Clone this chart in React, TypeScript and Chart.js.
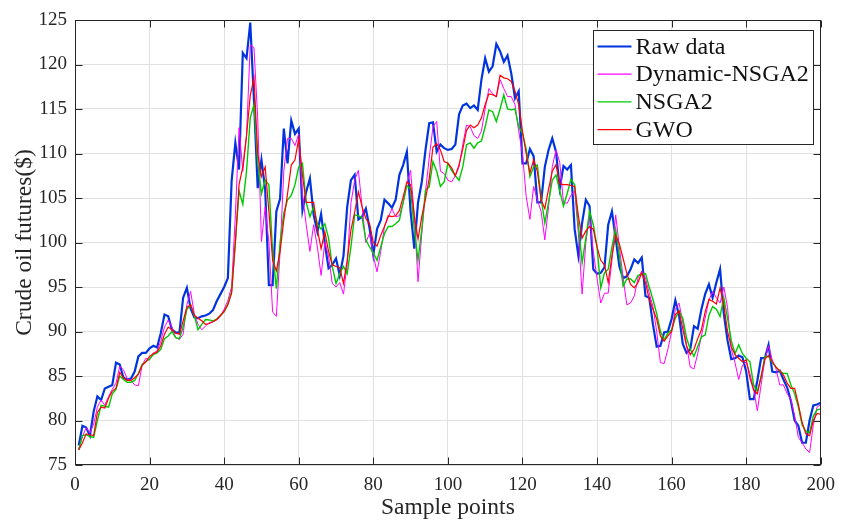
import React, { useEffect, useRef } from 'react';
import { Chart, registerables } from 'chart.js';

Chart.register(...registerables);

const seriesLabels = ['Raw data', 'Dynamic-NSGA2', 'NSGA2', 'GWO'];
const seriesColors = ['rgb(0,52,222)', 'rgb(255,0,255)', 'rgb(0,200,0)', 'rgb(255,0,0)'];
const seriesWidths = [2.2, 1, 1.4, 1.2];

const xTicks = [0, 20, 40, 60, 80, 100, 120, 140, 160, 180, 200];
const yTicks = [75, 80, 85, 90, 95, 100, 105, 110, 115, 120, 125];

const rawData = [
  77.2, 79.4, 79.2, 78.3, 81.0, 82.7, 82.3, 83.6, 83.8, 84.0,
  86.5, 86.3, 84.8, 84.6, 84.7, 85.5, 87.2, 87.6, 87.6, 88.1,
  88.4, 88.2, 89.8, 91.9, 91.7, 90.2, 89.9, 89.85, 93.8, 94.9,
  92.6, 91.6, 91.5, 91.7, 91.8, 92.0, 92.4, 93.4, 94.2, 95.0,
  96.0, 106.9, 111.2, 108.2, 121.3, 120.7, 124.7, 116.0, 106.1, 109.3,
  106.0, 95.2, 95.2, 103.5, 104.9, 112.8, 108.9, 113.7, 112.2, 112.8,
  103.6, 105.7, 107.2, 103.1, 101.2, 103.2, 99.9, 97.1, 97.5, 98.2,
  96.3, 98.5, 104.0, 107.0, 107.6, 102.6, 102.9, 103.8, 101.6, 98.6,
  101.5, 102.5, 104.8, 104.4, 103.9, 104.8, 107.6, 108.7, 110.2, 103.5,
  99.3, 104.5, 106.8, 110.4, 113.4, 113.5, 110.2, 111.0, 110.6, 110.4,
  110.5, 111.0, 114.4, 115.4, 115.6, 115.1, 115.4, 114.9, 118.3, 120.7,
  119.2, 119.8, 122.3, 121.5, 120.3, 121.0, 119.0, 116.2, 117.0, 108.9,
  108.9, 110.5, 109.7, 104.5, 104.5, 108.5, 110.4, 111.7, 110.2, 106.1,
  108.6, 108.2, 108.7, 101.5, 98.5, 102.2, 104.8, 104.1, 97.0, 96.5,
  96.6, 97.2, 102.0, 103.5, 100.5, 97.3, 96.0, 96.2, 97.0, 98.1,
  97.7, 98.3, 94.0, 93.8, 90.8, 88.3, 88.4, 89.9, 90.0, 91.4,
  93.5, 91.8, 88.6, 87.6, 88.0, 90.6, 90.3, 92.5, 94.2, 95.3,
  93.8, 95.5, 97.0, 92.0, 89.0, 86.9, 87.0, 87.3, 87.1, 85.5,
  82.4, 82.4, 84.5, 87.0, 87.0, 88.5, 85.5, 85.4, 85.6, 84.6,
  83.7, 82.2, 80.0, 79.4, 77.5, 77.5, 80.0, 81.7, 81.8, 82.0,
];

const dynamicNsga2 = [
  76.8, 78.2, 79.2, 78.6, 79.6, 81.5, 82.3, 81.7, 82.7, 83.5,
  84.2, 86.1, 85.7, 84.7, 84.5, 84.0, 83.9, 86.2, 87.0, 86.8,
  87.6, 87.8, 88.9, 90.5, 91.3, 90.5, 89.3, 89.1, 89.7, 93.0,
  94.5, 92.0, 90.8, 90.2, 90.6, 91.0, 91.1, 91.3, 91.7, 92.5,
  93.5, 95.0, 103.0, 112.9, 108.0, 112.0, 122.2, 121.9, 114.0, 100.1,
  104.0, 100.0, 92.2, 91.7, 99.0, 108.0, 111.7, 111.7, 110.9, 112.2,
  105.5, 102.0, 99.0, 102.0, 99.5, 96.3, 100.0, 98.5, 95.4, 95.0,
  95.5, 94.2, 97.6, 104.4, 107.0, 108.1, 104.0, 100.0, 101.0, 98.5,
  96.7, 99.0, 101.8, 102.8, 103.8, 102.9, 103.0, 104.4, 106.6, 108.1,
  103.0, 95.6, 101.0, 105.7, 109.5, 113.0, 113.6, 108.0, 107.75, 107.0,
  106.8, 107.5, 108.5, 111.0, 113.2, 113.0, 112.0, 111.7, 112.5, 115.0,
  117.3, 116.7, 116.4, 118.3, 117.3, 116.4, 116.4, 115.5, 112.5, 110.0,
  105.2, 102.6, 106.3, 104.8, 103.5, 100.3, 104.0, 108.5, 110.4, 109.0,
  104.5, 104.4, 105.3, 105.8, 101.0, 94.2, 100.0, 103.0, 99.0, 96.0,
  93.2, 94.3, 94.3, 98.0, 103.1, 99.5, 96.0, 93.0, 93.2, 94.0,
  96.0, 96.8, 96.0, 94.3, 92.8, 90.0, 86.5, 86.4, 88.0, 90.0,
  92.5, 93.2, 91.0, 88.5, 86.0, 85.8, 87.5, 89.5, 91.5, 93.5,
  94.5, 93.8, 93.2, 95.0, 92.7, 88.0, 86.5, 84.6, 86.2, 86.6,
  85.3, 83.5, 81.1, 84.0, 86.8, 88.4, 86.8, 85.8, 84.0, 84.0,
  83.0, 82.4, 80.5, 78.1, 77.5, 76.8, 76.4, 79.5, 81.5, 81.8,
];

const nsga2 = [
  76.7, 78.3, 78.4, 78.2, 78.1, 80.0, 81.7, 81.6, 81.5, 83.0,
  83.5, 85.0, 84.6, 84.3, 84.3, 84.5, 85.3, 86.3, 86.6, 86.9,
  87.4, 87.6, 88.0, 89.2, 89.5, 90.0, 89.3, 89.2, 90.5, 92.5,
  93.0, 91.8, 90.2, 90.8, 91.35, 91.3, 91.2, 91.4, 91.8, 92.2,
  93.1, 94.5, 100.0, 105.8, 104.3, 108.0, 114.0, 115.5, 109.0, 105.5,
  107.0, 106.5, 99.0, 94.8, 100.0, 103.3, 104.8, 105.3, 106.5, 108.5,
  108.9, 104.5, 102.9, 104.0, 102.1, 101.5, 102.1, 100.5, 97.3, 95.4,
  96.5, 97.3, 96.5, 99.5, 103.1, 103.0, 102.8, 100.3, 99.5, 98.8,
  98.0, 99.5, 101.0, 101.8, 101.8, 102.1, 102.5, 104.5, 106.4, 106.0,
  101.5, 98.0, 101.5, 105.9, 106.25, 109.1, 108.0, 106.3, 106.8, 108.9,
  108.1, 107.5, 107.0, 108.5, 111.0, 111.2, 110.6, 111.2, 111.4, 113.0,
  114.9, 114.7, 113.6, 115.0, 116.6, 115.0, 114.9, 115.0, 113.0, 112.3,
  110.5, 107.4, 108.5, 108.7, 105.0, 102.2, 104.5, 107.0, 107.6, 105.8,
  104.1, 105.5, 107.1, 106.5, 102.0, 97.7, 100.5, 103.5, 102.0, 99.5,
  94.9, 96.6, 97.0, 99.5, 101.5, 98.5, 95.1, 95.9, 95.9, 95.5,
  96.3, 96.4, 96.5, 95.0, 93.6, 92.0, 90.0, 89.1, 89.8, 90.2,
  91.5, 92.3, 91.5, 89.3, 88.0, 87.2, 88.3, 89.4, 89.6, 91.8,
  92.8, 92.5, 91.7, 93.8, 91.5, 89.0, 87.5, 88.5, 87.5, 87.0,
  86.6, 84.0, 83.3, 84.8, 87.2, 87.2, 86.5, 86.0, 85.5, 85.3,
  85.3, 84.0, 83.0, 81.5, 79.5, 78.8, 78.6, 80.5, 81.2, 81.3,
];

const gwo = [
  76.7, 77.5, 78.5, 78.4, 78.3, 80.9, 81.5, 81.4, 82.5, 83.3,
  83.6, 85.4, 84.8, 84.5, 84.5, 84.8, 85.2, 86.2, 86.6, 87.2,
  87.5, 87.7, 88.4, 89.7, 90.5, 90.2, 89.8, 89.7, 91.2, 92.7,
  93.0, 91.8, 91.5, 91.2, 90.8, 90.9, 91.1, 91.35, 91.8, 92.3,
  93.0, 94.3, 100.0, 106.5, 108.5, 112.0, 116.5, 118.5, 110.0, 107.4,
  108.5, 103.5, 98.0, 96.8, 99.0, 102.5, 105.5, 108.7, 109.3, 111.7,
  107.5, 104.5, 104.5, 104.5, 101.5, 99.3, 101.2, 99.0, 97.5, 97.3,
  97.2, 95.4, 98.0, 101.4, 103.4, 105.7, 104.0, 102.7, 102.1, 100.0,
  99.6, 100.8, 101.8, 103.0, 102.9, 103.0, 103.6, 105.1, 106.8, 106.5,
  103.0, 100.4, 102.9, 104.9, 107.2, 110.7, 111.1, 110.4, 109.1, 108.9,
  108.4, 107.5, 108.75, 110.5, 112.6, 113.2, 112.9, 113.2, 114.0, 115.5,
  116.7, 116.6, 116.4, 118.8, 118.5, 118.4, 118.1, 117.0, 115.5, 112.5,
  110.0, 107.8, 109.3, 108.0, 104.8, 103.8, 106.0, 108.0, 108.75, 106.6,
  106.5, 106.5, 106.4, 106.3, 103.0, 100.5, 101.3, 101.8, 101.5, 99.5,
  98.0, 97.5, 95.5, 98.5, 100.8, 99.8, 98.2, 96.5, 95.3, 94.9,
  95.5, 96.6, 95.5, 93.6, 92.5, 91.4, 89.5, 88.9, 89.5, 90.0,
  91.9, 92.3, 90.3, 88.4, 87.4, 88.0, 89.2, 90.2, 92.2, 93.6,
  93.4, 93.1, 94.9, 93.0, 90.0, 88.3, 87.4, 87.0, 86.6, 86.8,
  84.8, 83.4, 83.0, 85.0, 86.9, 87.3, 86.6, 86.0, 85.6, 85.1,
  84.2, 83.6, 83.6, 81.8, 79.8, 78.5, 78.3, 80.0, 80.8, 80.7,
];

const allSeries = [rawData, dynamicNsga2, nsga2, gwo];

const FONT = "'Liberation Serif', 'Times New Roman', serif";
const TEXT = '#262626';

const toPoints = (arr: number[]) => arr.map((v, i) => ({ x: i + 1, y: v }));

const decorPlugin = {
  id: 'decor',
  afterDatasetsDraw(chart: any) {
    const { ctx, chartArea: a, scales } = chart;
    const L = Math.round(a.left) + 0.5;
    const R = Math.round(a.right) - 0.5;
    const T = Math.round(a.top) + 0.5;
    const B = Math.round(a.bottom) - 0.5;
    ctx.save();
    ctx.strokeStyle = TEXT;
    ctx.lineWidth = 1;
    ctx.strokeRect(L, T, R - L, B - T);
    const tl = 7;
    ctx.beginPath();
    xTicks.forEach((v) => {
      const px = Math.round(scales.x.getPixelForValue(v)) + 0.5;
      ctx.moveTo(px, B); ctx.lineTo(px, B - tl);
      ctx.moveTo(px, T); ctx.lineTo(px, T + tl);
    });
    yTicks.forEach((v) => {
      const py = Math.round(scales.y.getPixelForValue(v)) + 0.5;
      ctx.moveTo(L, py); ctx.lineTo(L + tl, py);
      ctx.moveTo(R, py); ctx.lineTo(R - tl, py);
    });
    ctx.stroke();

    // legend box
    const boxW = 220;
    const boxH = 114;
    const bx = Math.round(a.right - 8 - boxW) + 0.5;
    const by = Math.round(a.top + 10) + 0.5;
    ctx.fillStyle = '#ffffff';
    ctx.fillRect(bx, by, boxW, boxH);
    ctx.strokeStyle = TEXT;
    ctx.lineWidth = 1;
    ctx.strokeRect(bx, by, boxW, boxH);
    ctx.font = `24px ${FONT}`;
    ctx.textBaseline = 'middle';
    ctx.textAlign = 'left';
    seriesLabels.forEach((label, k) => {
      const yy = by + 16 + k * 27.7;
      ctx.strokeStyle = seriesColors[k];
      ctx.lineWidth = k === 0 ? 2 : 1.2;
      ctx.beginPath();
      ctx.moveTo(bx + 4, yy);
      ctx.lineTo(bx + 38, yy);
      ctx.stroke();
      ctx.fillStyle = '#111111';
      ctx.fillText(label, bx + 42, yy + 1);
    });

    // y axis title, centred on the plot area
    ctx.save();
    ctx.translate(25, (a.top + a.bottom) / 2);
    ctx.rotate(-Math.PI / 2);
    ctx.font = `23.5px ${FONT}`;
    ctx.fillStyle = TEXT;
    ctx.textAlign = 'center';
    ctx.textBaseline = 'middle';
    ctx.fillText('Crude oil futures($)', 0, 0);
    ctx.restore();
    ctx.restore();
  },
};

export default function App() {
  const ref = useRef<HTMLCanvasElement>(null);

  useEffect(() => {
    if (!ref.current) return;
    const order = [4, 3, 2, 1];
    const chart = new Chart(ref.current, {
      type: 'line',
      data: {
        datasets: allSeries.map((s, k) => ({
          label: seriesLabels[k],
          data: toPoints(s),
          borderColor: seriesColors[k],
          backgroundColor: seriesColors[k],
          borderWidth: seriesWidths[k],
          pointRadius: 0,
          tension: 0,
          fill: false,
          order: order[k],
        })),
      },
      options: {
        responsive: false,
        animation: false,
        devicePixelRatio: 1,
        layout: { padding: { left: 0, top: 20, right: 19, bottom: 0 } },
        plugins: {
          legend: { display: false },
          tooltip: { enabled: false },
        },
        scales: {
          x: {
            type: 'linear',
            min: 0,
            max: 200,
            afterFit: (s: any) => { s.height = 58; },
            afterBuildTicks: (s: any) => { s.ticks = xTicks.map((v) => ({ value: v })); },
            ticks: {
              stepSize: 20,
              autoSkip: false,
              maxRotation: 0,
              padding: 9,
              color: TEXT,
              font: { family: FONT, size: 19 },
            },
            grid: { color: '#e1e1e1', lineWidth: 1, drawTicks: false },
            border: { display: false },
            title: {
              display: true,
              text: 'Sample points',
              color: TEXT,
              font: { family: FONT, size: 23.5 },
              padding: { top: 0, bottom: 1 },
            },
          },
          y: {
            type: 'linear',
            min: 75,
            max: 125,
            afterFit: (s: any) => { s.width = 75; },
            afterBuildTicks: (s: any) => { s.ticks = yTicks.map((v) => ({ value: v })); },
            ticks: {
              stepSize: 5,
              autoSkip: false,
              padding: 8,
              color: TEXT,
              font: { family: FONT, size: 19 },
            },
            grid: { color: '#e1e1e1', lineWidth: 1, drawTicks: false },
            border: { display: false },
          },
        },
      },
      plugins: [decorPlugin],
    });
    return () => chart.destroy();
  }, []);

  return (
    <div style={{ position: 'absolute', left: 0, top: 0, width: 844, height: 523, background: '#ffffff' }}>
      <canvas ref={ref} width={844} height={523} style={{ display: 'block', width: 844, height: 523 }} />
    </div>
  );
}
